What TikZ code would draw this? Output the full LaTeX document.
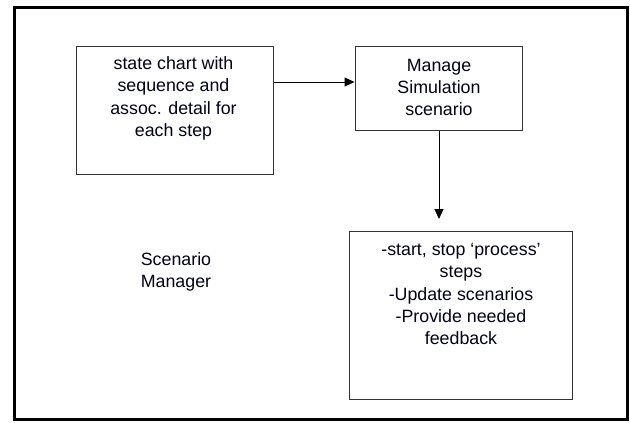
\documentclass[tikz,border=0pt]{standalone}
\usepackage{fontspec}
\setmainfont{Liberation Sans}
\usetikzlibrary{arrows.meta}
\begin{document}
\begin{tikzpicture}[x=1pt,y=-1pt,
  txt/.style={font=\fontsize{17.8}{22.3}\selectfont, align=center, text=black!90!blue},
  boxnode/.style={draw=black!80, line width=1pt},
  conn/.style={draw=black, line width=1pt, -{Triangle[length=10pt,width=9pt]}}]
\useasboundingbox (0,0) rectangle (630,423);
\fill[white] (0,0) rectangle (630,423);
\draw[line width=3pt] (14,7) rectangle (627,419);
% boxes
\node[boxnode, minimum width=197pt, minimum height=128pt, inner sep=0pt] (b1) at (174.5,110) {};
\node[boxnode, minimum width=167pt, minimum height=84pt, inner sep=0pt] (b2) at (438.5,88) {};
\node[boxnode, minimum width=223pt, minimum height=168pt, inner sep=0pt] (b3) at (460.5,315) {};
% texts
\node[txt, anchor=center] (t1) at (173.5,98.5) {state chart with\\sequence and\\assoc. detail for\\each step};
\node[txt, anchor=center] (t2) at (439,87.5) {Manage\\Simulation\\scenario};
\node[txt, anchor=center] (t3) at (461,294) {-start, stop ‘process’\\steps\\-Update scenarios\\-Provide needed\\feedback};
\node[txt, anchor=center] (sm) at (176,272) {Scenario\\Manager};
% connectors
\coordinate (a3) at (439,219);
\draw[conn] (b1.east |- 0,82) -- (b2.west |- 0,82);
\draw[conn] (b2.south -| a3) -- (a3);
\end{tikzpicture}
\end{document}
